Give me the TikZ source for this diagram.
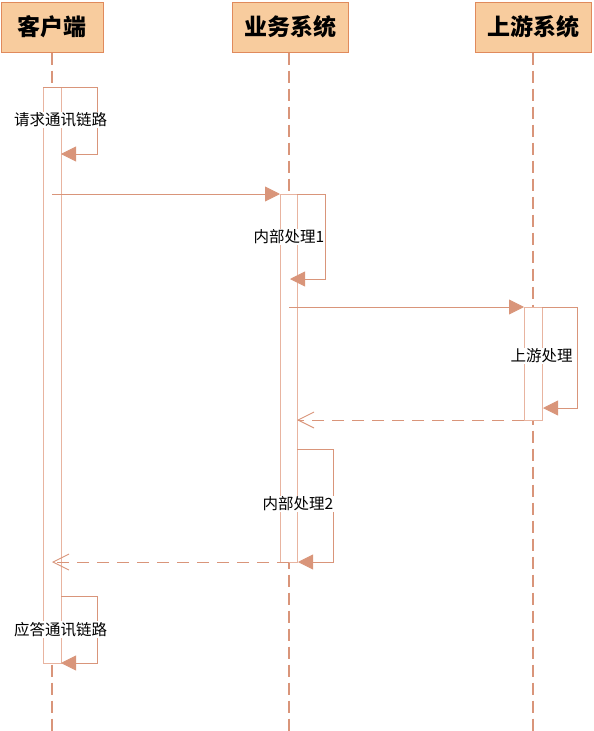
\documentclass[tikz,border=0pt]{standalone}
\usepackage{fontspec}
\setmainfont{Noto Sans CJK SC}
\usetikzlibrary{arrows.meta}
\definecolor{ln}{HTML}{D9957A}
\definecolor{barc}{HTML}{E8B4A0}
\definecolor{hdfill}{HTML}{F8CC9E}
\definecolor{hddraw}{HTML}{E08A5C}
\begin{document}
\begin{tikzpicture}[x=1pt,y=-1pt,
  header/.style={draw=hddraw, fill=hdfill, line width=1pt, minimum height=50pt, inner sep=0pt,
    font=\fontsize{23}{23}\selectfont\bfseries},
  lifeline/.style={draw=ln, line width=1.5pt, dash pattern=on 12pt off 6pt},
  actbar/.style={draw=barc, fill=white, line width=1pt, inner sep=0pt, outer sep=0pt, anchor=north west},
  msg/.style={draw=ln, line width=0.9pt, -{Triangle[length=15pt,width=15pt,fill=ln]}},
  selfloop/.style={draw=ln, line width=0.9pt, -{Triangle[length=15pt,width=15pt,fill=ln]}},
  ret/.style={draw=ln, line width=0.9pt, dash pattern=on 12pt off 8pt,
    -{Straight Barb[length=16pt,width=16pt,line width=0.9pt]}},
  lbl/.style={fill=white, inner sep=1pt, font=\fontsize{15.5}{15.5}\selectfont}
]
\useasboundingbox (0,0) rectangle (594,731);
% headers
\node[header, minimum width=102pt] (h1) at (52,27) {客户端};
\node[header, minimum width=116pt] (h2) at (290,27) {业务系统};
\node[header, minimum width=116pt] (h3) at (533,27) {上游系统};
% lifeline ends
\coordinate (e1) at (52,731);
\coordinate (e2) at (289,731);
\coordinate (e3) at (533,731);
\draw[lifeline] (h1.south) -- (e1);
\draw[lifeline] (h2.south -| e2) -- (e2);
\draw[lifeline] (h3.south) -- (e3);
% activation bars
\node[actbar, minimum width=18pt, minimum height=576pt] (a1) at (43,87) {};
\node[actbar, minimum width=17pt, minimum height=368pt] (a2) at (280,194) {};
\node[actbar, minimum width=18pt, minimum height=113pt] (a3) at (524,307) {};
% loop 1 (client)
\coordinate (l1a) at (43,87);
\coordinate (l1t) at (61,154);
\draw[selfloop] (l1a) -- (97,87) -- (97,154) -- (l1t);
% message 1
\coordinate (m1s) at (52,194);
\draw[msg] (m1s) -- (a2.north west);
% loop 2 (business)
\coordinate (l2t) at (290,279);
\draw[selfloop] (a2.north east) -- (325,194) -- (325,279) -- (l2t);
% message 2
\coordinate (m2s) at (289,307);
\draw[msg] (m2s) -- (a3.north west);
% loop 3 (upstream)
\coordinate (l3t) at (543,408);
\draw[selfloop] (a3.north east) -- (577,307) -- (577,408) -- (l3t);
% return 1
\coordinate (r1t) at (297,420);
\draw[ret] (a3.south west) -- (r1t);
% loop 4 (business)
\coordinate (l4s) at (297,449);
\coordinate (l4t) at (298,562);
\draw[selfloop] (l4s) -- (333,449) -- (333,562) -- (l4t);
% return 2
\coordinate (r2s) at (289,562);
\coordinate (r2t) at (52,562);
\draw[ret] (r2s) -- (r2t);
% loop 5 (client)
\coordinate (l5s) at (61,596);
\coordinate (l5t) at (61,663);
\draw[selfloop] (l5s) -- (97,596) -- (97,663) -- (l5t);
% labels
\node[lbl] (t1) at (60.5,120) {请求通讯链路};
\node[lbl] (t2) at (289,237) {内部处理1};
\node[lbl] (t3) at (541.5,356) {上游处理};
\node[lbl] (t4) at (298,504) {内部处理2};
\node[lbl] (t5) at (60.5,629.5) {应答通讯链路};
\end{tikzpicture}
\end{document}
